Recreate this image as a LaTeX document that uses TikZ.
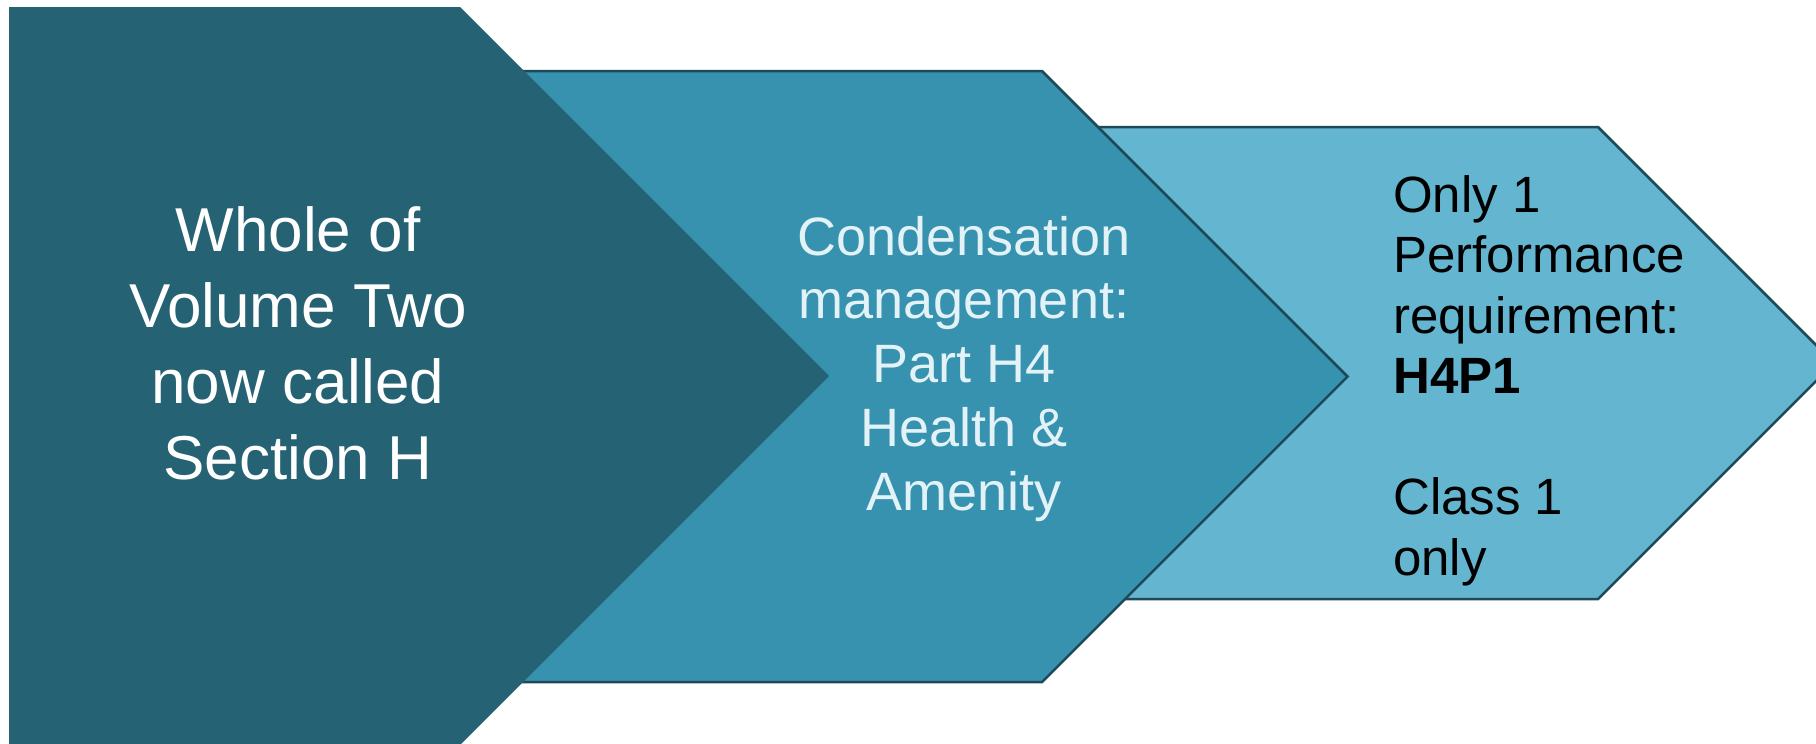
\documentclass[tikz,border=0pt]{standalone}
\usepackage{fontspec}
\setmainfont{Liberation Sans}
\definecolor{cdark}{HTML}{246274}
\definecolor{cmid}{HTML}{3792B0}
\definecolor{clight}{HTML}{64B5D0}
\definecolor{cline}{HTML}{1D4A58}
\definecolor{ctextmid}{HTML}{E2F2F7}
\tikzset{
  chev/.style={line width=2.5pt, draw=cline, line join=miter},
  lbl/.style={inner sep=0pt, anchor=base},
}
\begin{document}
\begin{tikzpicture}[x=1pt,y=-1pt]
\useasboundingbox (0,0) rectangle (1816,744);
% third chevron
\path[chev, fill=clight] (1050,127) -- (1598,127) -- (1834,363) -- (1598,599) -- (1050,599) -- (1286,363) -- cycle;
% second chevron
\path[chev, fill=cmid] (500,71) -- (1042,71) -- (1347.5,376.5) -- (1042,682) -- (500,682) -- (805,376.5) -- cycle;
% first chevron
\path[fill=cdark] (9,7) -- (460,7) -- (829,376) -- (460,745) -- (9,745) -- cycle;
% texts
\node[lbl, anchor=base, text=white, align=center, font=\fontsize{62}{75.7}\selectfont] (t1) at (298,479)
  {Whole of\\Volume Two\\now called\\Section H};
\node[lbl, anchor=base, text=ctextmid, align=center, font=\fontsize{54}{63.7}\selectfont] (t2) at (964,510)
  {Condensation\\management:\\Part H4\\Health \&\\Amenity};
\node[lbl, anchor=base west, text=black, align=left, font=\fontsize{51}{60.5}\selectfont] (t3) at (1393,575)
  {Only 1\\Performance\\requirement:\\\textbf{H4P1}\\[60.5pt]Class 1\\only};
\end{tikzpicture}
\end{document}
